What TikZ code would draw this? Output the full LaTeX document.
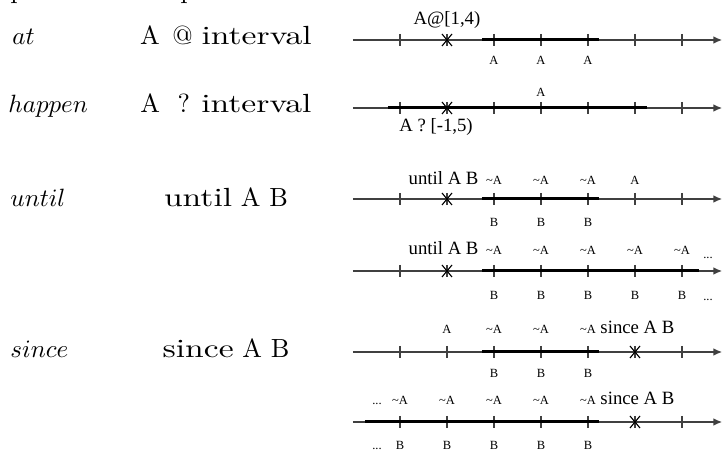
\documentclass[tikz,border=0pt]{standalone}
\usepackage{fontspec}
\newfontfamily\timesfont{Liberation Serif}
\newfontfamily\widefont[FakeStretch=1.28]{Latin Modern Roman}
\usetikzlibrary{arrows.meta,positioning}

\begin{document}
\begin{tikzpicture}[
    x=0.4pt, y=-0.4pt,
    axis/.style={draw=black!75, line width=0.45pt, -{Latex[length=3.4pt,width=3pt]}},
    span/.style={draw=black, line width=1.2pt},
    tickmark/.style={draw=black!75, line width=0.45pt},
    crossmark/.style={draw=black, line width=0.45pt},
    op/.style={anchor=base west, inner sep=0pt, font=\fontsize{10}{12}\selectfont},
    expr/.style={anchor=base, inner sep=0pt, font=\fontsize{10.5}{12}\selectfont},
    note/.style={anchor=base, inner sep=0pt, font=\timesfont\fontsize{7.5}{9}\selectfont},
    lbl/.style={anchor=base, inner sep=0pt, font=\timesfont\fontsize{5}{6}\selectfont}
]
    \useasboundingbox (0,0) rectangle (723,452);

    % header (cut off at the top)
    \node[expr, anchor=base west] (headleft) at (10,-1) {p};
    \node[expr, anchor=base west] (headright) at (180,-1) {p};

    % operators and expressions
    \node[op] (at) at (12,45) {$at$};
    \node[expr] (atexpr) at (226,45) {A\hspace{5pt}@\hspace{3.5pt}{\widefont interval}};
    \node[op] (happen) at (8,113) {$happen$};
    \node[expr] (happenexpr) at (226,113) {A\hspace{7pt}?\hspace{4.5pt}{\widefont interval}};
    \node[op] (until) at (10,207) {$until$};
    \node[expr] (untilexpr) at (226,207) {{\widefont until} A B};
    \node[op] (since) at (10,358) {$since$};
    \node[expr] (sinceexpr) at (226,358) {{\widefont since} A B};

    % time axes with ticks and the evaluation point
    \foreach \r/\y/\c in {1/40/447, 2/108/447, 3/199/447, 4/271/447, 5/352/635, 6/422/635} {
        \coordinate (s\r) at (353,\y);
        \coordinate (e\r) at (722,\y);
        \draw[axis] (s\r) -- (e\r);
        \foreach \t in {400,447,494,541,588,635,682}
            \draw[tickmark] (\t,\y-6) -- (\t,\y+6);
        \draw[crossmark] (\c-5,\y-6) -- (\c+5,\y+6) (\c-5,\y+6) -- (\c+5,\y-6);
    }

    % intervals where the formula holds
    \foreach \r/\y/\a/\b in {1/40/482/599, 2/108/388/647, 3/199/482/599, 4/271/482/699, 5/352/482/599, 6/422/365/599} {
        \coordinate (p\r) at (\a,\y);
        \coordinate (q\r) at (\b,\y);
        \draw[span] (p\r) -- (q\r);
    }

    % at
    \node[note] (atnote) at (447,25) {A@[1,4)};
    \foreach \t in {494,541,588}
        \node[lbl] (atA\t) at (\t,65) {A};

    % happen
    \node[lbl] (happenA) at (541,97) {A};
    \node[note] (happennote) at (436,132) {A ? [-1,5)};

    % until, first case
    \node[note, anchor=base east] (untilnote1) at (479,185) {until A B};
    \foreach \t in {494,541,588} {
        \node[lbl] (unA\t) at (\t,185) {\textasciitilde A};
        \node[lbl] (unB\t) at (\t,227) {B};
    }
    \node[lbl] (unA635) at (635,185) {A};

    % until, second case
    \node[note, anchor=base east] (untilnote2) at (479,255) {until A B};
    \foreach \t in {494,541,588,635,682} {
        \node[lbl] (uwA\t) at (\t,255) {\textasciitilde A};
        \node[lbl] (uwB\t) at (\t,300) {B};
    }
    \node[lbl] (uwdotsA) at (708,259) {...};
    \node[lbl] (uwdotsB) at (708,301) {...};

    % since, first case
    \node[note, anchor=base west] (sincenote1) at (600,334) {since A B};
    \node[lbl] (siA447) at (447,334) {A};
    \foreach \t in {494,541,588} {
        \node[lbl] (siA\t) at (\t,334) {\textasciitilde A};
        \node[lbl] (siB\t) at (\t,378) {B};
    }

    % since, second case
    \node[note, anchor=base west] (sincenote2) at (600,405) {since A B};
    \foreach \t in {400,447,494,541,588} {
        \node[lbl] (swA\t) at (\t,405) {\textasciitilde A};
        \node[lbl] (swB\t) at (\t,450) {B};
    }
    \node[lbl] (swdotsA) at (377,405) {...};
    \node[lbl] (swdotsB) at (377,450) {...};
\end{tikzpicture}
\end{document}
